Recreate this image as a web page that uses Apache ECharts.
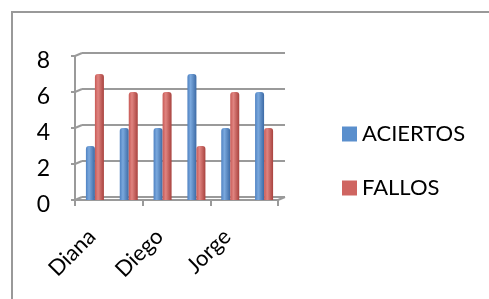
<!DOCTYPE html>
<html>
<head>
<meta charset="utf-8">
<script src="https://cdn.jsdelivr.net/npm/echarts@6/dist/echarts.min.js"></script>
<style>
  html, body { margin: 0; padding: 0; background: #fff; }
  #chart { width: 489px; height: 299px; }
</style>
</head>
<body>
<div id="chart"></div>
<script>
// only every other name is printed on the axis
const categories = ["Diana", "", "Diego", "", "Jorge", ""];
const aciertos = [3, 4, 4, 7, 4, 6];
const fallos = [7, 6, 6, 3, 6, 4];
const yTicks = [0, 2, 4, 6, 8];

const FONT = "Lato, 'Open Sans', sans-serif";
const LINE = "#9a9a9a";
const DX = 7, DY = 3; // back wall offset

function cylinder(dark, mid, light) {
    return new echarts.graphic.LinearGradient(0, 0, 1, 0, [
        { offset: 0, color: mid },
        { offset: 0.35, color: light },
        { offset: 1, color: dark }
    ]);
}

// back wall grid lines plus the little diagonals on the left wall
function renderWall(params, api) {
    const cs = params.coordSys;
    const x0 = cs.x, x1 = cs.x + cs.width;
    const v = api.value(0);
    const y = api.coord([0, v])[1];
    const style = { stroke: LINE, lineWidth: 2 };
    const children = [
        { type: "line", shape: { x1: x0 + DX, y1: y - DY, x2: x1 + DX, y2: y - DY }, style },
        { type: "line", shape: { x1: x0, y1: y, x2: x0 + DX, y2: y - DY }, style }
    ];
    if (v === 0) {
        children.push({ type: "line", shape: { x1: x1, y1: y, x2: x1 + DX, y2: y - DY }, style });
    }
    return { type: "group", children, silent: true };
}

const chart = echarts.init(document.getElementById("chart"));

const hiddenAxis = { show: false };

chart.setOption({
    animation: false,
    backgroundColor: "#fff",
    graphic: [{
        type: "rect",
        shape: { x: 12, y: 12, width: 490, height: 300 },
        style: { fill: "none", stroke: "#999", lineWidth: 2 },
        silent: true
    }],
    grid: [
        { left: 75, top: 56, width: 203, height: 144 },
        // bars stand half way into the 3d floor
        { left: 78, top: 56, width: 203, height: 144 }
    ],
    legend: {
        orient: "vertical",
        left: 342,
        top: 123,
        padding: 0,
        itemWidth: 15,
        itemHeight: 15,
        itemGap: 32,
        itemTextGap: 6,
        icon: "rect",
        textStyle: { fontFamily: FONT, fontSize: 22, color: "#000" },
        data: [
            { name: "ACIERTOS", itemStyle: { color: "#5a8fcd" } },
            { name: "FALLOS", itemStyle: { color: "#cf6561" } }
        ]
    },
    xAxis: [
        {
            type: "category",
            data: categories,
            axisLine: { show: true, lineStyle: { color: LINE, width: 2 } },
            axisTick: { show: true, length: 6, lineStyle: { color: LINE, width: 2 } },
            axisLabel: {
                interval: 1,
                rotate: 45,
                margin: 33,
                fontFamily: FONT,
                fontSize: 22,
                color: "#000"
            }
        },
        { type: "category", data: categories, gridIndex: 1, ...hiddenAxis }
    ],
    yAxis: [
        {
            type: "value",
            min: 0,
            max: 8,
            interval: 2,
            splitLine: { show: false },
            axisLine: { show: true, lineStyle: { color: LINE, width: 2 } },
            axisTick: { show: true, length: 4, lineStyle: { color: LINE, width: 2 } },
            axisLabel: {
                margin: 25,
                verticalAlign: "top",
                lineHeight: 10,
                fontFamily: FONT,
                fontSize: 23,
                color: "#000"
            }
        },
        { type: "value", min: 0, max: 8, interval: 2, gridIndex: 1, ...hiddenAxis }
    ],
    series: [
        {
            type: "custom",
            renderItem: renderWall,
            data: yTicks.map(v => [v]),
            encode: { y: 0 },
            z: 1,
            silent: true
        },
        {
            name: "ACIERTOS",
            type: "bar",
            xAxisIndex: 1,
            yAxisIndex: 1,
            data: aciertos,
            barWidth: 9,
            barGap: "0%",
            z: 3,
            itemStyle: {
                color: cylinder("#3c6aa5", "#4f82c2", "#7aa8dd"),
                borderRadius: [3, 3, 0, 0]
            }
        },
        {
            name: "FALLOS",
            type: "bar",
            xAxisIndex: 1,
            yAxisIndex: 1,
            data: fallos,
            barWidth: 9,
            barGap: "0%",
            z: 3,
            itemStyle: {
                color: cylinder("#a8423e", "#c85a56", "#e08480"),
                borderRadius: [3, 3, 0, 0]
            }
        }
    ]
});
</script>
</body>
</html>
